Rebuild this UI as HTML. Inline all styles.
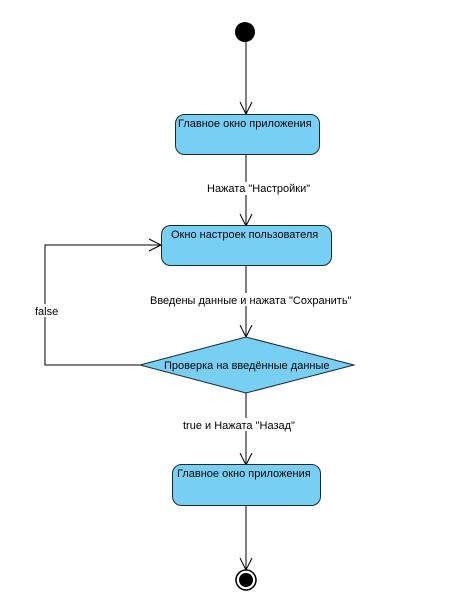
<!DOCTYPE html>
<html><head><meta charset="utf-8"><style>
html,body{margin:0;padding:0;background:#fff;width:451px;height:614px;overflow:hidden}
text{font-family:"Liberation Sans","DejaVu Sans",sans-serif;font-size:11px;fill:#000}
</style></head><body>
<svg width="451" height="614" xmlns="http://www.w3.org/2000/svg">
<g stroke="#000" stroke-width="1" fill="none">
<line x1="246" y1="42" x2="246" y2="114"/>
<polyline points="240,102 246,114 252,102"/>
<line x1="246" y1="154" x2="246" y2="226"/>
<polyline points="240,214 246,226 252,214"/>
<line x1="246" y1="265" x2="246" y2="337"/>
<polyline points="240,325 246,337 252,325"/>
<line x1="246" y1="393" x2="246" y2="465"/>
<polyline points="240,453 246,465 252,453"/>
<line x1="246" y1="505" x2="246" y2="570"/>
<polyline points="240,558 246,570 252,558"/>
<polyline points="140,365 45,365 45,245 161,245"/>
<polyline points="149,239 161,245 149,251"/>
</g>
<circle cx="245" cy="32" r="10" fill="#000"/>
<rect x="175.5" y="114.5" width="144" height="40" rx="9" fill="#78cff4" stroke="#1a2a33"/>
<rect x="161.5" y="225.5" width="170" height="40" rx="9" fill="#78cff4" stroke="#1a2a33"/>
<polygon points="140,365 246,337 354,365 246,393" fill="#78cff4" stroke="#1a2a33"/>
<rect x="172.5" y="464.5" width="148" height="41" rx="9" fill="#78cff4" stroke="#1a2a33"/>
<circle cx="246" cy="580" r="10" fill="#fff" stroke="#000" stroke-width="1.5"/>
<circle cx="246" cy="580" r="7" fill="#000"/>
<text x="178" y="127">Главное окно приложения</text>
<text x="171" y="238">Окно настроек пользователя</text>
<text x="164" y="369">Проверка на введённые данные</text>
<text x="177" y="477">Главное окно приложения</text>
<rect x="206" y="182" width="104" height="13" fill="#fff"/>
<text x="207" y="192">Нажата "Настройки"</text>
<rect x="149" y="293" width="206" height="13" fill="#fff"/>
<text x="150" y="304">Введены данные и нажата "Сохранить"</text>
<rect x="182" y="418" width="116" height="13" fill="#fff"/>
<text x="183" y="429">true и Нажата "Назад"</text>
<rect x="34" y="304" width="24" height="13" fill="#fff"/>
<text x="35" y="315">false</text>
</svg>
</body></html>
